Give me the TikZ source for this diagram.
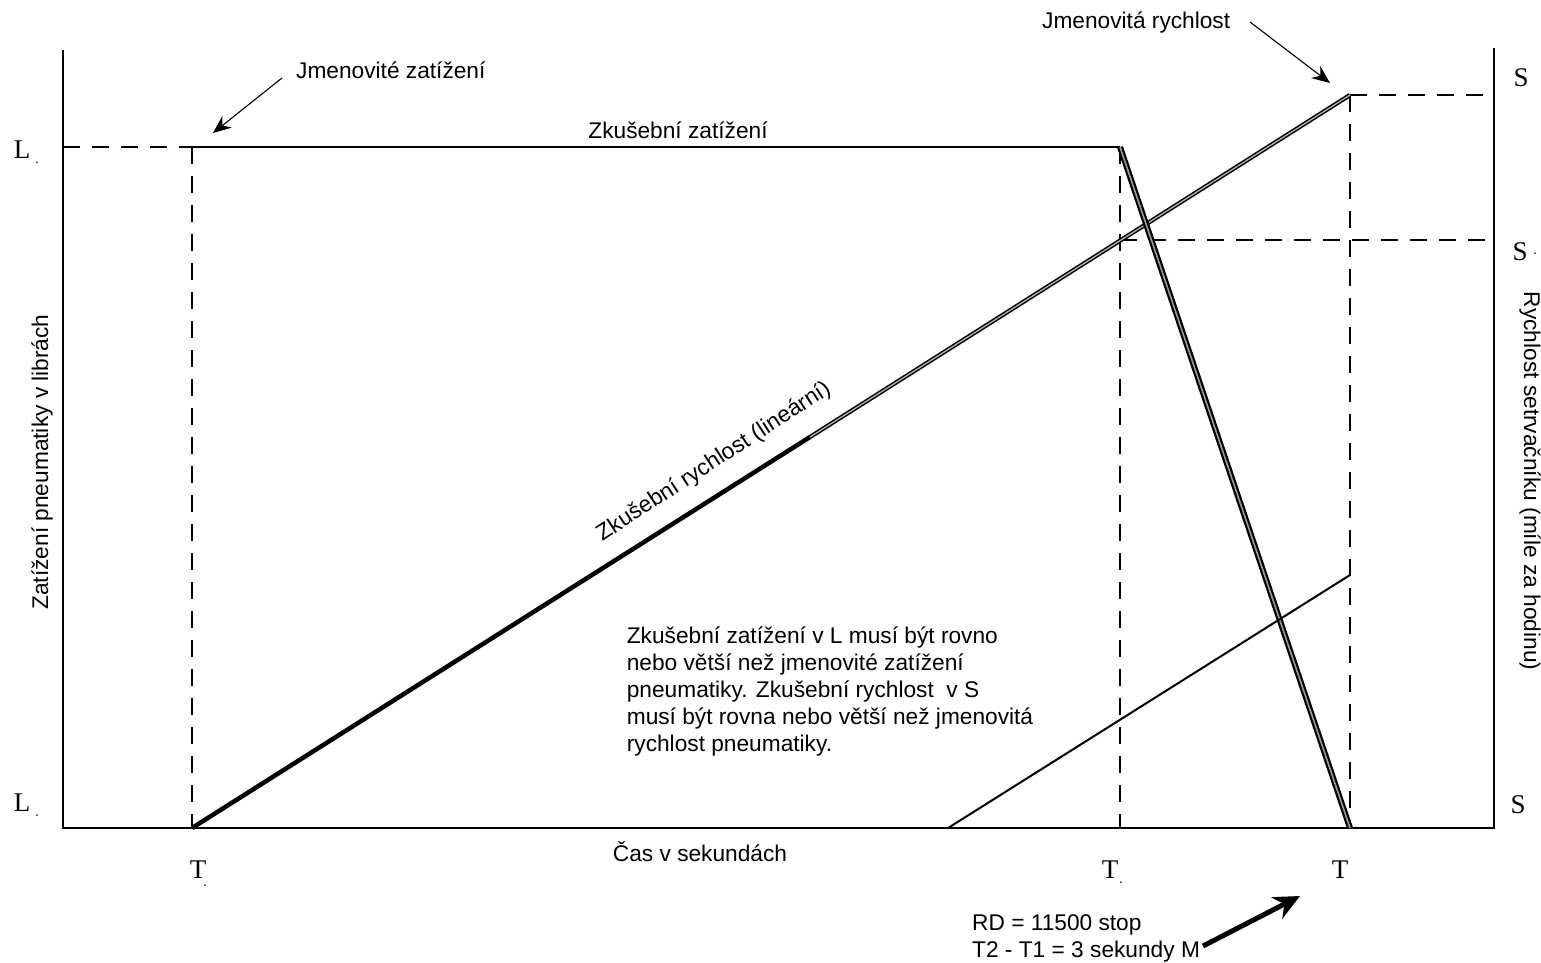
\documentclass[tikz,border=0pt]{standalone}
\usepackage{fontspec}
\setmainfont{Liberation Sans}
\newfontfamily\serifl{Liberation Serif}
\usetikzlibrary{arrows.meta}
\begin{document}
\begin{tikzpicture}[x=1pt,y=-1pt,
  axis/.style={line width=2.6pt, line join=miter},
  dashline/.style={line width=2pt, dash pattern=on 17pt off 12pt},
  solidline/.style={line width=2pt},
  texline/.style={line width=1.5pt, double=black!30, double distance=1.3pt},
  dropline/.style={line width=2.2pt, double=black!40, double distance=1.6pt},
  lbl/.style={font=\fontsize{22.7}{27}\selectfont, inner sep=0pt},
  axl/.style={font=\serifl\fontsize{27}{30}\selectfont, inner sep=0pt},
  dotl/.style={font=\fontsize{14}{14}\selectfont, inner sep=0pt},
  pointer/.style={line width=1.1pt, -{Stealth[length=18pt,width=15pt]}},
  bigarrow/.style={line width=5pt, -{Stealth[length=26pt,width=24pt]}}]
\useasboundingbox (0,0) rectangle (1541,962);
% coordinates
\coordinate (TL) at (63,50);
\coordinate (O) at (63,828);
\coordinate (BR) at (1494,828);
\coordinate (TR) at (1494,48);
\coordinate (L0) at (63,147);
\coordinate (A) at (192,147);
\coordinate (B) at (1120,147);
\coordinate (A0) at (192,828);
\coordinate (B0) at (1120,828);
\coordinate (C0) at (1350,828);
\coordinate (Ct) at (1350,95);
\coordinate (Rt) at (1494,95);
\coordinate (B1) at (1120,240);
\coordinate (R1) at (1494,240);
\coordinate (M) at (810,437);
\coordinate (E) at (948,828);
\coordinate (F) at (1350,575);
% dashed guides
\draw[dashline] (L0) -- (A);
\draw[dashline] (A) -- (A0);
\draw[dashline] (B) -- (B0);
\draw[dashline] (Ct) -- (C0);
\draw[dashline] (Ct) -- (Rt);
\draw[dashline] (B1) -- (R1);
% axes
\draw[axis] (TL) -- (O) -- (BR) -- (TR);
% load line
\draw[solidline] (A) -- (B);
% speed line
\draw[line width=4.5pt] (A0) -- (M);
\draw[texline] (M) -- (Ct);
% drop line
\draw[dropline] (B) -- (C0);
% thin line
\draw[solidline] (E) -- (F);
% axis letters
\node[axl] (Lt) at (22,150) {L};
\node[dotl] (Ltd) at (37,163) {.};
\node[axl] (Lb) at (22,803) {L};
\node[dotl] (Lbd) at (37,816) {.};
\node[axl] (St) at (1521,78) {S};
\node[axl] (Sm) at (1520,252) {S};
\node[dotl] (Smd) at (1535,254) {.};
\node[axl] (Sb) at (1518,805) {S};
\node[axl] (T1) at (198,870) {T};
\node[dotl] (T1d) at (205,886) {.};
\node[axl] (T2) at (1110,870) {T};
\node[dotl] (T2d) at (1121,883) {.};
\node[axl] (T3) at (1340,870) {T};
% labels
\node[lbl] (zz) at (678,130) {Zkušební zatížení};
\node[lbl, anchor=west] (jz) at (296,70) {Jmenovité zatížení};
\node[lbl, anchor=west] (jr) at (1042,22) {Jmenovitá rychlost};
\node[lbl] (cas) at (700,852) {Čas v sekundách};
\node[lbl, rotate=90] (yl) at (42,462) {Zatížení pneumatiky v librách};
\node[lbl, rotate=-90] (yr) at (1530,481) {Rychlost setrvačníku (míle za hodinu)};
\node[lbl, rotate=33] (zr) at (714,462) {Zkušební rychlost (lineární)};
\node[lbl, align=left] (par) at (830,691) {Zkušební zatížení v L musí být rovno\\nebo větší než jmenovité zatížení\\pneumatiky. Zkušební rychlost~ v S\\musí být rovna nebo větší než jmenovitá\\rychlost pneumatiky.};
\node[lbl, align=left, anchor=north west] (rd) at (972,914) {RD = 11500 stop\\T2 - T1 = 3 sekundy M};
% pointers
\coordinate (p1s) at (282,78);
\coordinate (p1e) at (213,133);
\draw[pointer] (p1s) -- (p1e);
\coordinate (p2s) at (1250,22);
\coordinate (p2e) at (1330,83);
\draw[pointer] (p2s) -- (p2e);
\coordinate (p3s) at (1203,946);
\coordinate (p3e) at (1300,896);
\draw[bigarrow] (p3s) -- (p3e);
\end{tikzpicture}
\end{document}
